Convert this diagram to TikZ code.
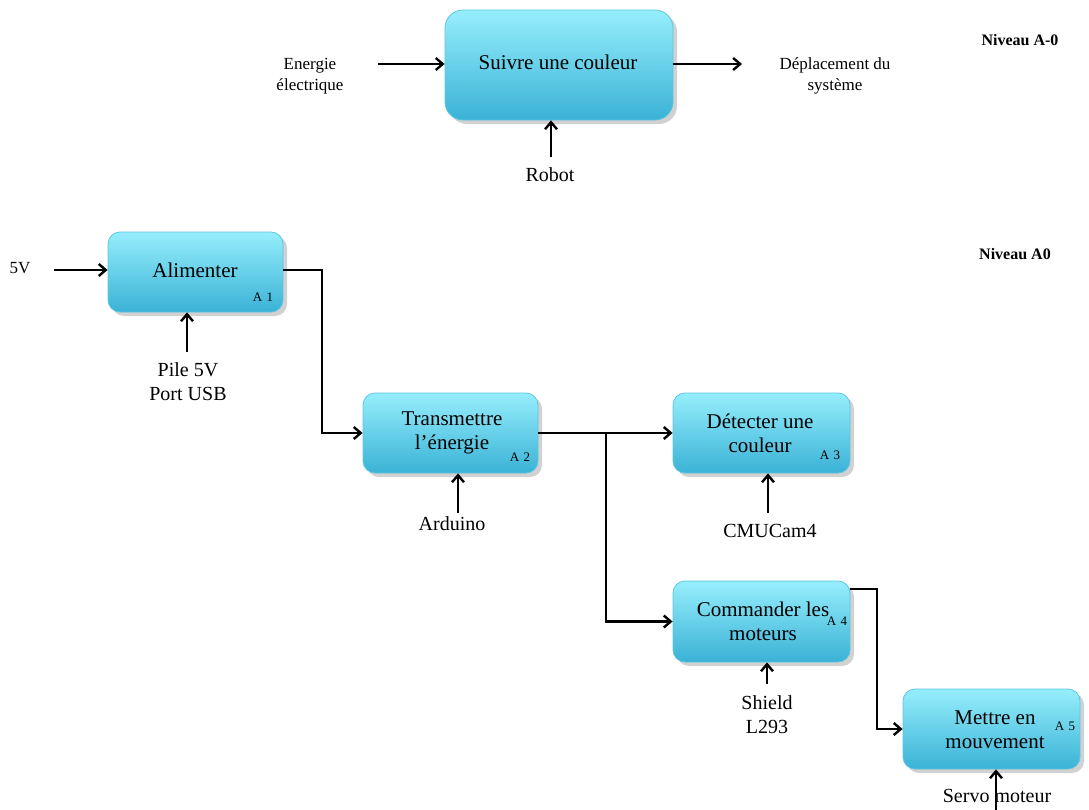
\documentclass[tikz,border=0pt]{standalone}
\usepackage{fontspec}
\setmainfont{Liberation Serif}
\usetikzlibrary{arrows.meta,shadows,calc}
\definecolor{boxtop}{HTML}{96EEFC}
\definecolor{boxbot}{HTML}{3AB2D6}
\definecolor{boxline}{HTML}{5CC6E2}
\begin{document}
\begin{tikzpicture}[x=1pt,y=-1pt,
  fbox/.style={draw=boxline, line width=0.8pt, rounded corners=12pt,
    top color=boxtop, bottom color=boxbot,
    drop shadow={shadow xshift=4pt, shadow yshift=-4pt, opacity=0.3, fill=black!60},
    inner sep=0pt},
  btxt/.style={align=center, font=\fontsize{21}{24}\selectfont, inner sep=0pt},
  lbl/.style={align=center, font=\fontsize{20}{24}\selectfont, inner sep=0pt},
  sml/.style={align=center, font=\fontsize{17}{21}\selectfont, inner sep=0pt},
  tag/.style={font=\fontsize{13}{15}\selectfont, inner sep=0pt},
  niv/.style={font=\bfseries\fontsize{16}{18}\selectfont, inner sep=0pt},
  flow/.style={line width=2.7pt, -{Straight Barb[length=7pt,width=12pt,line width=2.4pt]}},
  ]
\useasboundingbox (0,0) rectangle (1089,809);

% ---------- Niveau A-0 ----------
\node[niv] (n0) at (1020,40) {Niveau A-0};
\node[fbox, rounded corners=18pt, minimum width=228pt, minimum height=110pt] (top) at (559,65) {};
\node[btxt] (toptxt) at (558,62) {Suivre une couleur};
\node[sml] (ein) at (310,76) {Energie\\électrique};
\node[sml] (eout) at (835,76) {Déplacement du\\système};
\coordinate (einS) at (378,64);
\coordinate (eoutE) at (742,64);
\draw[flow] (einS) -- (einS -| top.west);
\draw[flow] (eoutE -| top.east) -- (eoutE);
\node[lbl] (robot) at (550,175) {Robot};
\coordinate (robS) at (551,157);
\draw[flow] (robS) -- (robS |- top.south);

% ---------- Niveau A0 ----------
\node[niv] (n1) at (1015,254) {Niveau A0};

\node[fbox, minimum width=175pt, minimum height=80pt] (a1) at (195.5,272) {};
\node[btxt] (t1) at (195,270) {Alimenter};
\node[tag] (g1) at (263,297) {A\,\,1};

\node[fbox, minimum width=175pt, minimum height=80pt] (a2) at (450.5,433) {};
\node[btxt] (t2) at (452,433) {Transmettre\\l’énergie};
\node[tag] (g2) at (520,457) {A\,\,2};

\node[fbox, minimum width=177pt, minimum height=80pt] (a3) at (761.5,433) {};
\node[btxt] (t3) at (760,433) {Détecter une\\couleur};
\node[tag] (g3) at (830,455) {A\,\,3};

\node[fbox, minimum width=177pt, minimum height=81pt] (a4) at (761.5,621.5) {};
\node[btxt] (t4) at (763,621) {Commander les\\moteurs};
\node[tag] (g4) at (837,621) {A\,\,4};

\node[fbox, minimum width=177pt, minimum height=80pt] (a5) at (991.5,729) {};
\node[btxt] (t5) at (995,730) {Mettre en\\mouvement};
\node[tag] (g5) at (1065,726) {A\,\,5};

% inputs
\node[sml] (v5) at (20,268) {5V};
\coordinate (v5E) at (54,270);
\draw[flow] (v5E) -- (v5E -| a1.west);

% A1 -> A2
\coordinate (k1) at (322,270);
\draw[flow] (a1.east |- k1) -- (k1) |- (a2.west);

% A2 -> A3, A4
\coordinate (br) at (606,433);
\draw[flow] (a2.east) -- (a3.west);
\draw[flow] (br) |- (a4.west);

% A4 -> A5
\coordinate (k4) at (877,589);
\draw[flow] (a4.east |- k4) -- (k4) |- (a5.west);

% mechanisms
\node[lbl] (pile) at (188,382) {Pile 5V\\Port USB};
\coordinate (pileS) at (187,352);
\draw[flow] (pileS) -- (pileS |- a1.south);

\node[lbl] (ard) at (452,524) {Arduino};
\coordinate (ardS) at (458,513);
\draw[flow] (ardS) -- (ardS |- a2.south);

\node[lbl] (cmu) at (770,531) {CMUCam4};
\coordinate (cmuS) at (768,513);
\draw[flow] (cmuS) -- (cmuS |- a3.south);

\node[lbl] (shield) at (767,715) {Shield\\L293};
\coordinate (shS) at (767,684);
\draw[flow] (shS) -- (shS |- a4.south);

\node[lbl] (servo) at (997,796) {Servo moteur};
\coordinate (svS) at (996,812);
\draw[flow] (svS) -- (svS |- a5.south);
\end{tikzpicture}
\end{document}
